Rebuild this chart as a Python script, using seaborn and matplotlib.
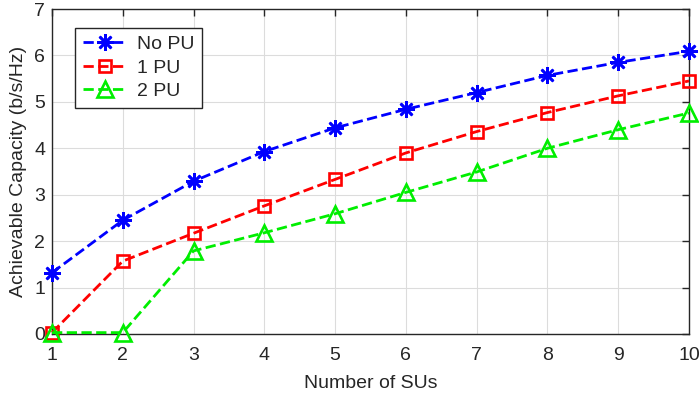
import matplotlib
matplotlib.use("Agg")
import matplotlib.pyplot as plt
import seaborn as sns
import pandas as pd

num_sus = [1, 2, 3, 4, 5, 6, 7, 8, 9, 10]
no_pu = [1.32, 2.45, 3.29, 3.93, 4.44, 4.84, 5.20, 5.57, 5.85, 6.09]
one_pu = [0.03, 1.57, 2.17, 2.76, 3.33, 3.90, 4.36, 4.77, 5.13, 5.45]
two_pu = [0.03, 0.03, 1.79, 2.18, 2.59, 3.05, 3.49, 4.00, 4.40, 4.76]

labels = ["No PU", "1 PU", "2 PU"]
series = [no_pu, one_pu, two_pu]
colors = ["#0000ff", "#ff0000", "#00ee00"]
markers = [(8, 2, 0), "s", "^"]
msizes = [12, 8.5, 12]

sns.set_style("white")
plt.rcParams["font.family"] = ["Liberation Sans", "DejaVu Sans"]

fig = plt.figure(figsize=(6.99, 3.97), dpi=100)
ax = fig.add_axes([52 / 699, 1 - 334 / 397, (689 - 52) / 699, (334 - 9) / 397])

for lab, vals, c, m, ms in zip(labels, series, colors, markers, msizes):
    df = pd.DataFrame({"x": num_sus, "y": vals})
    sns.lineplot(data=df, x="x", y="y", ax=ax, color=c, marker=m, linestyle="--",
                 linewidth=2.0, markersize=ms, markeredgecolor=c,
                 markerfacecolor="none", markeredgewidth=1.9, label=lab,
                 dashes=(3.0, 2.0), clip_on=False, zorder=3)

ax.set_xlim(1, 10)
ax.set_ylim(0, 7)
ax.set_xticks(range(1, 11))
ax.set_yticks(range(0, 8))
ax.grid(True, color="#dcdcdc", linewidth=0.8)
ax.set_axisbelow(True)
for s in ax.spines.values():
    s.set_color("#262626")
    s.set_linewidth(1.0)
ax.tick_params(direction="in", length=5, width=1.0, top=True, right=True,
               labelsize=14, colors="#262626")
ax.tick_params(axis="x", pad=9)
ax.tick_params(axis="y", pad=5)
ax.set_xlabel("Number of SUs", fontsize=14, color="#262626", labelpad=8)
ax.set_ylabel("Achievable Capacity (b/s/Hz)", fontsize=14, color="#262626", labelpad=5)

leg = ax.legend(loc="upper left", bbox_to_anchor=(0.036, 0.942), fontsize=14,
                fancybox=False, edgecolor="#262626", framealpha=1,
                handlelength=2.3, borderpad=0.4, labelspacing=0.3,
                handletextpad=0.5, borderaxespad=0)
leg.get_frame().set_linewidth(1.0)

fig.savefig("out.png", dpi=100)
